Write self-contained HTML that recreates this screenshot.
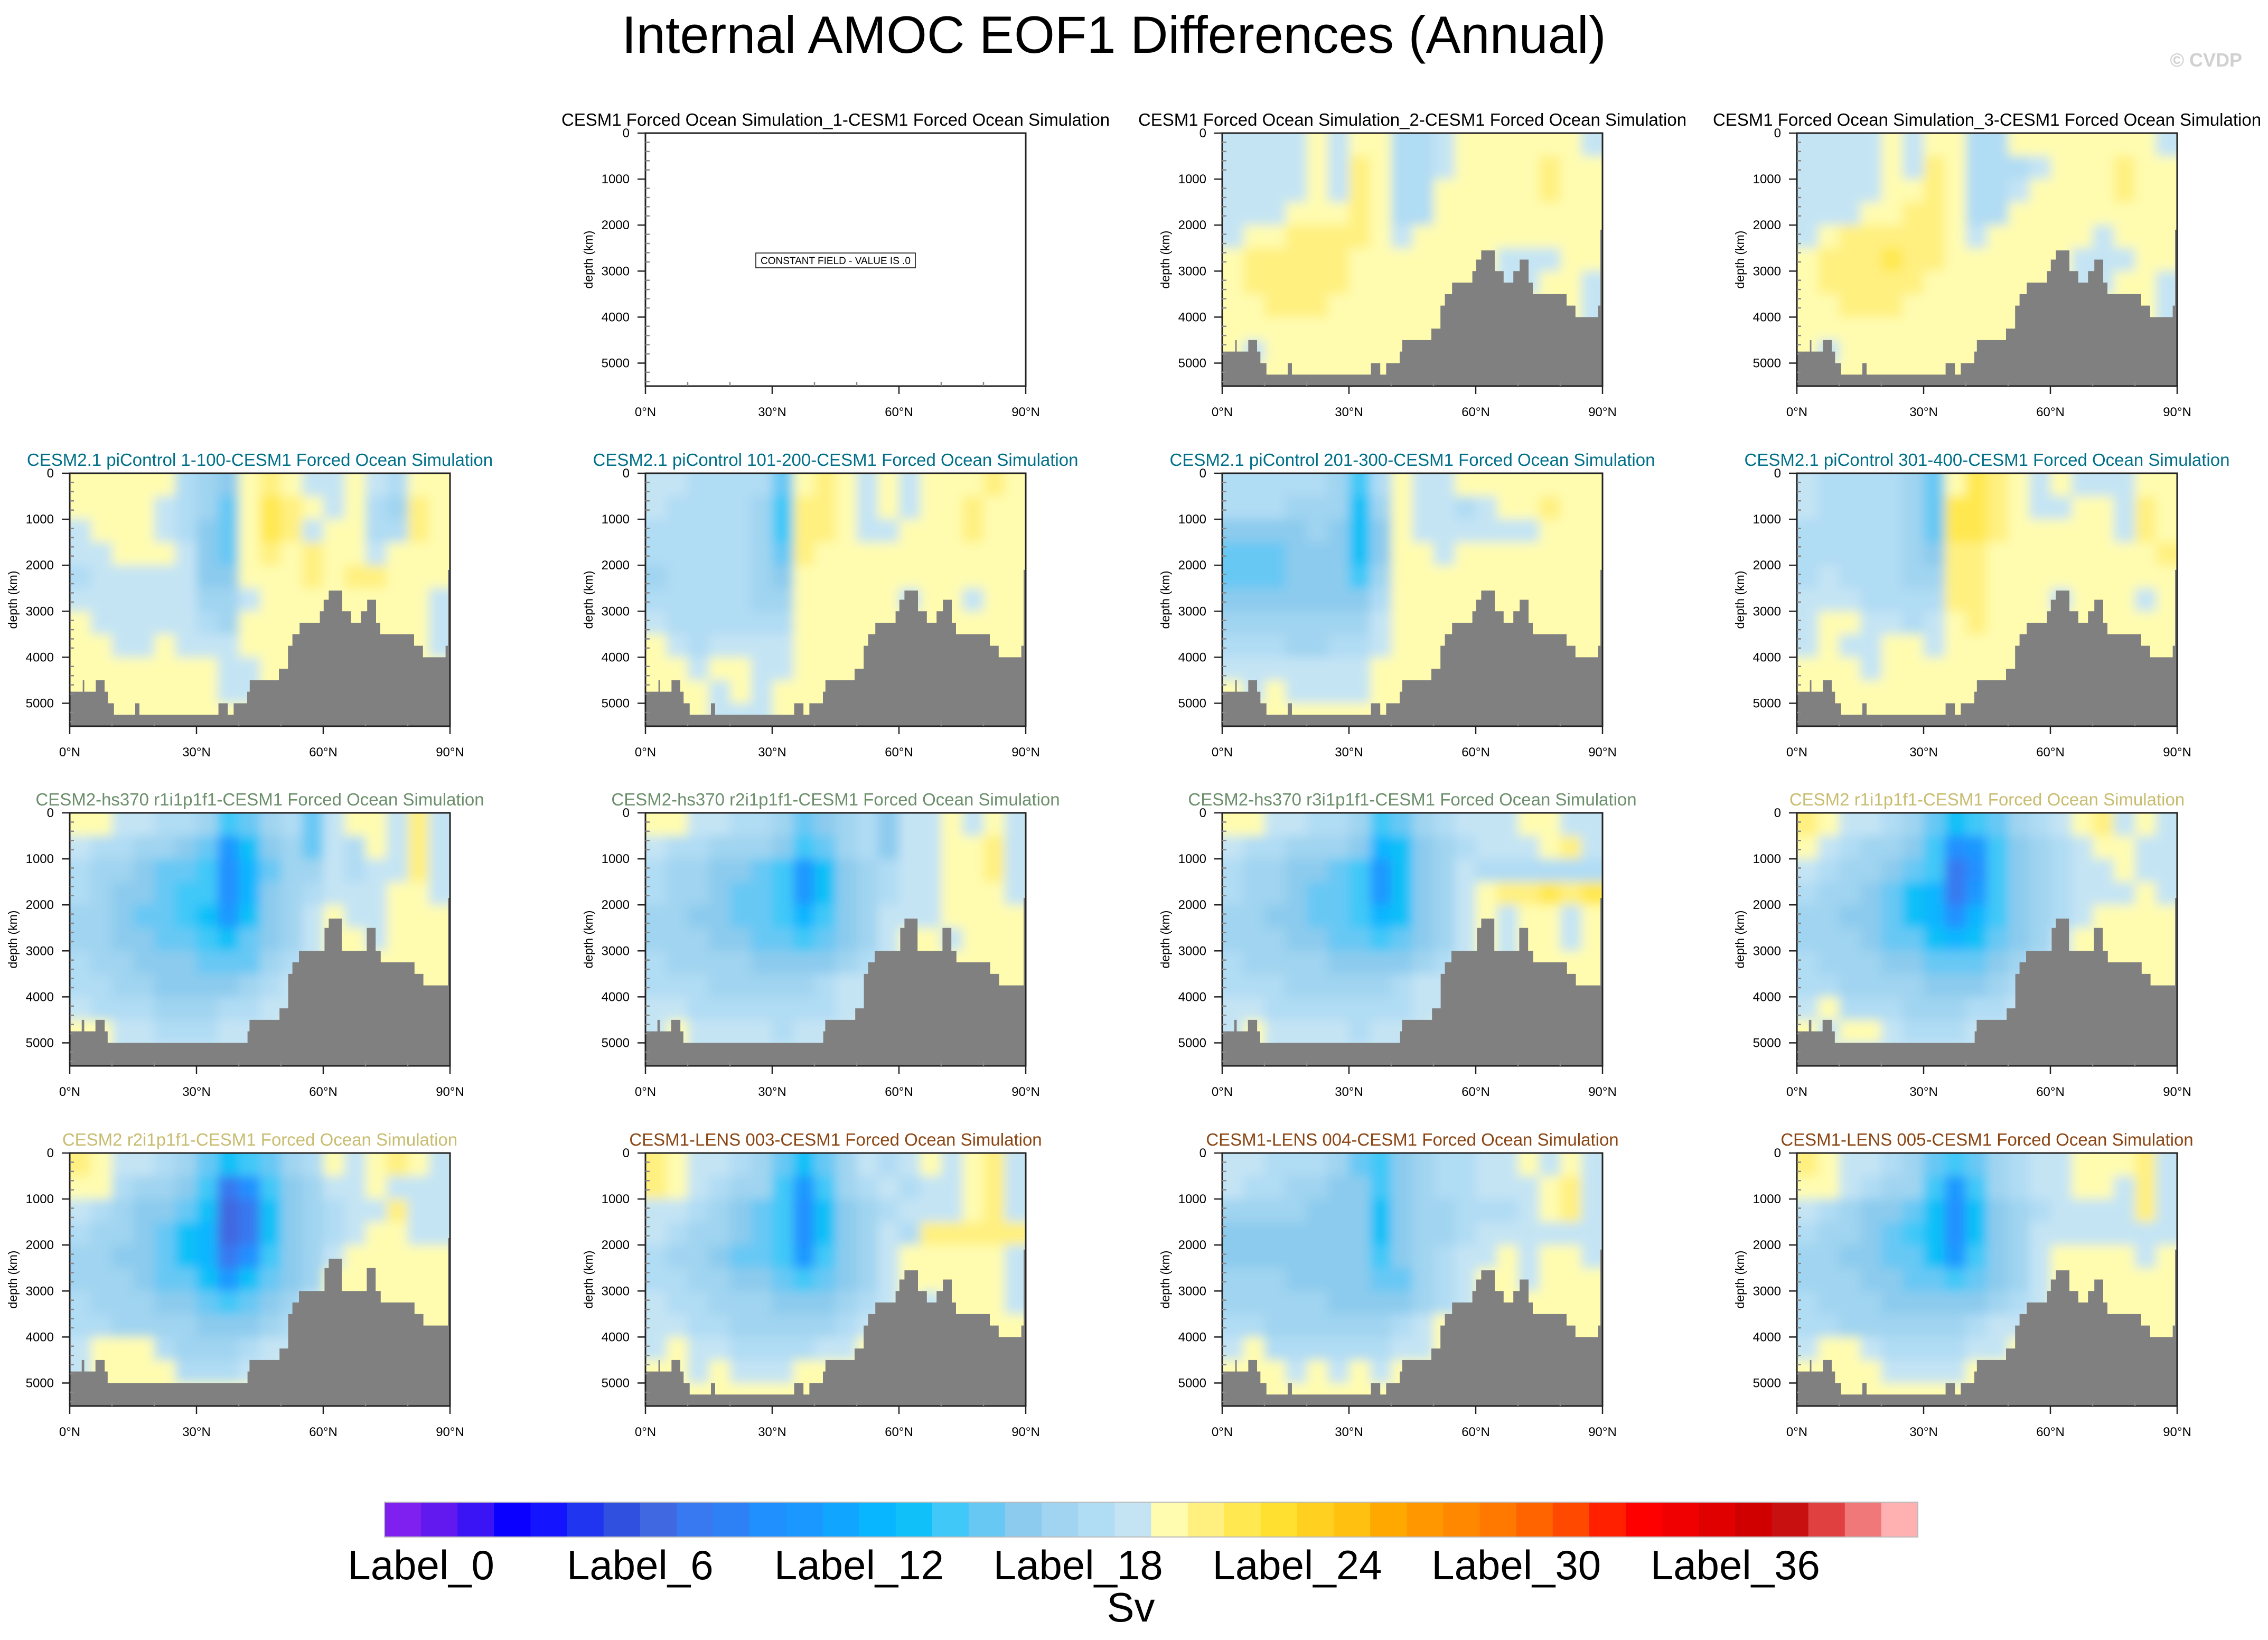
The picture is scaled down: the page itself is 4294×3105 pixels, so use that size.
<!DOCTYPE html>
<html><head><meta charset="utf-8">
<style>
html,body{margin:0;padding:0;background:#fff;}
svg{display:block;font-family:"Liberation Sans",sans-serif;}
</style></head>
<body>
<svg id="chart" xmlns="http://www.w3.org/2000/svg" width="4294" height="3105" viewBox="0 0 4294 3105">
<defs>
<filter id="soft" x="-5%" y="-5%" width="110%" height="110%"><feGaussianBlur stdDeviation="10"/></filter>
</defs>
<rect x="0" y="0" width="4294" height="3105" fill="#ffffff"/>
<text x="2109" y="100" font-size="99" text-anchor="middle" fill="#000">Internal AMOC EOF1 Differences (Annual)</text>
<text x="4245" y="126" font-size="36" font-weight="bold" text-anchor="end" fill="#d0d0d0">© CVDP</text>
<g id="panels"></g>
<g id="colorbar"></g>
</svg>
<script>
// ---- data ----
const levelChars = ['.','y','z','b','c','d','e','f','g','h','i','j','k','l','m'];
const levelColors = ['#fffcb0','#fff080','#ffe850','#c4e4f4','#b0dcf4','#a0d4f0','#8ccbee','#68c8f4','#40c8f8','#10c0f8','#08b5ff','#1a98ff','#2090ff','#3878f0','#4068e0'];
const bathyEdges1 = [0,3.08,3.44,6.17,8.25,9.04,10.47,15.5,16.5,35.2,37.4,38.8,42.0,42.6,49.5,51.65,52.7,54.4,59.2,60.1,61.3,64.5,66.6,68.9,70.4,72.5,73.5,81.5,83.6,88.95,89.5,90];
const bathyDepth1 = [4750,4500,4750,4500,4750,5000,5250,5000,5250,5000,5250,5000,4750,4500,4250,3750,3500,3250,3000,2750,2550,3000,3250,3000,2750,3250,3500,3750,4000,3750,2100];
const bathyEdges2 = [0,2.84,3.43,6.09,8.27,8.98,42.08,42.55,49.65,51.7,52.7,54.25,60.3,61.3,64.4,70.3,72.4,73.6,81.6,83.7,89.5,90];
const bathyDepth2 = [4750,4500,4750,4500,4750,5000,4750,4500,4250,3500,3250,3000,2500,2300,3000,2500,3000,3250,3500,3750,1850];
const xTickVals = [0,30,60,90];
const xTickLabels = ['0°N','30°N','60°N','90°N'];
const yTickVals = [0,1000,2000,3000,4000,5000];
const cbColors = ['#8020f0','#6119f0','#3a14f5','#0a00ff','#1414ff','#2035f0','#3050e0','#4068e0','#3878f0','#2e80f5','#2090ff','#1a98ff','#10a5ff','#08b5ff','#10c0f8','#40c8f8','#68c8f4','#8ccbee','#a0d4f0','#b0dcf4','#c4e4f4','#fffcb0','#fff080','#ffe850','#ffe030','#ffd020','#ffc010','#ffa800','#ff9800','#ff8800','#ff7800','#ff6400','#ff4800','#ff2000','#ff0000','#f00000','#e00000','#d00000','#c81010','#e04040','#f07878','#ffb0b0'];
const cbLabels = ['Label_0','Label_6','Label_12','Label_18','Label_24','Label_30','Label_36'];

const fieldSim2 = ["bbbb.b..ccb......b","bbbb.by.ccb....y..","bbbb.by.cc.....y..","bbb...y.cc........","b..yyyy.b.........",".yyyyy.......bbb..",".yyyyy.......bb..b","..yyy............b",".................b",".b................",".................."];
const fieldSim3 = ["bbbb.b..cc.......b","bbbb.by.cccb...y..","bbbb..y.ccb....y..","bbb..yy.cc........","b.yyyyy.b.....b...",".yyyzyy......bbb..",".yyyyy.......bb..b","..yyy............b",".................b",".b................",".................."];
const fieldPi1 = [".....cde.y.bb.bc..","....bcdf.zy.b.cdy.","b...bcef.zyb..ccy.","bb...bef.y.y..b...","cbbbbbee...y.yy...","bbbbbbddb........b",".bbbbbcd.........b","..bb.bbb.........b",".......bb.........",".......bb.........",".................."];
const fieldPi2 = ["bbccccf.y.b.b...y.","bccccdgyy.b.b..y..","cccccdgyy.bb...y..","cccccdfy..........","dccccde...........","cccccdd.....b..b..","bcccccc...........",".bcbbbb...........","..b..bb...........","...b.b............","...bbb............"];
const fieldPi3 = ["cccccdgc.bb.......","cccdddhd.bbcb..y..","eeeedehe.bbbbbb...","fffeeehe..b.......","fffeeegd..........","eeeeeeec..........","dddddddb..........","cccddccb..........","bbbbbbb...........",".b.bbbb...........",".................."];
const fieldPi4 = ["bccccdf.zy.b.bbb..","bccccdfzzy.bb..by.","cccccdfzzy.....by.","cccccdeyy........y","cbcccddyy.........","bbbccccyy...b...b.","b..bbcb.y.........","b.bb..b...........","...b..............","..................",".................."];
const fieldHs1 = ["..bbccdgfdcfb..byb","bccddefjhedfbc.byb","cddeffgkifddbcbbyb","cdeefggkiedcbbb..b","ddeffghjhedb.bb...","ddeeffghfedb..b...","cddeeefffdcb......","ccddeeeedcb.......","bcccdddccbb......b","..bbcccbbb......bb","..bbbbbbb........."];
const fieldHs2 = ["..bbccdfedcebb.b.b","bccdddegfdcebb..yb","cddeefgjhedcbb..yb","cddeffgjhedcbb...b","ddeeffgigedbbb....","dddeeffgfedb..b...","cddddeeeedcb......","cccdddddcbb.......","bbcccccccbb.......","b.bbbbcbbb........","..bbbbbbb........."];
const fieldHs3 = ["..bbccdgfdcbbb..bb","bccdddeihedcbbb.yb","cddeefgjhedbcccccc","cddeffgjhedb.yyzyz","ddeeffgihedb.b..b.","dddeeffgfedb.b..b.","cddddeeeedcb.b....","cccdddddcbb.......","bbcccccccbb.......","b.bbbbcbbb........","..bbbbbbb........."];
const fieldC2r1 = ["y.bbcdfhgfdcb.yb.b",".bcddegkjgedcb..bb","bcddefglkgedcbb.bb","cddefhiljgedcbbb.b","ddeefhikigedcb....","dddeffhihfedb.....","cdddeefffedcb.....","ccddddeeedcb......","b.cccdddccbb......",".b..bcccbbb.......","..bbbbbbbb........"];
const fieldC2r2 = ["y.bbcdfhgfdc.b.y.b","..cddeglkgedbb.bbb","bcdeefhmlhedcbbybb","cddefhimlhedcb..bb","ddeefhilkgedb.....","dddeffhjhfed......","cdddeefgfedb......","ccddddeeedcb......","b...cdddcbb.......","b....cccbb........",".................."];
const fieldL3 = ["y.bbcdfhfdbcb.b.yb","y.bcddgjgdcbcbb.yb","bbcdefgkhedcbbb.yb","bcddefgkhedbcyyyyy","cddeffgjgedb.....b","ccddeefgfedb.....b","bccdddeeedcb.b...b","bbccdddddcb.......","b.bbccccbb........","..b.bbb...........",".................."];
const fieldL4 = ["bbcccdfgedccbb.b.b","bccddeegedccbbb.yb","ddddeeeheddcccb.yb","eeeeeeeheddcbbbbbb","eeeeeeegedcbb.b..b","dddeeeeffdcb..b...","dddddeeeedcb......","ccddddddcb.b......","b.ccccccbb........","...b.b.b..........",".................."];
const fieldL5 = ["y.bbcdfgfdcbb...yb","..bcddgjgdcbb..byb","bcdeefhkhedcbbbbyb","cddefghkhedbbbbbbb","ddeeffhjgedb....b.","dddeeffgfedb......","cdddeeeeedcb......","ccddddddcbb.......","b..bccccbb........","....bbbb..........",".................."];

const panelTitles = [null,
 "CESM1 Forced Ocean Simulation_1-CESM1 Forced Ocean Simulation",
 "CESM1 Forced Ocean Simulation_2-CESM1 Forced Ocean Simulation",
 "CESM1 Forced Ocean Simulation_3-CESM1 Forced Ocean Simulation",
 "CESM2.1 piControl 1-100-CESM1 Forced Ocean Simulation",
 "CESM2.1 piControl 101-200-CESM1 Forced Ocean Simulation",
 "CESM2.1 piControl 201-300-CESM1 Forced Ocean Simulation",
 "CESM2.1 piControl 301-400-CESM1 Forced Ocean Simulation",
 "CESM2-hs370 r1i1p1f1-CESM1 Forced Ocean Simulation",
 "CESM2-hs370 r2i1p1f1-CESM1 Forced Ocean Simulation",
 "CESM2-hs370 r3i1p1f1-CESM1 Forced Ocean Simulation",
 "CESM2 r1i1p1f1-CESM1 Forced Ocean Simulation",
 "CESM2 r2i1p1f1-CESM1 Forced Ocean Simulation",
 "CESM1-LENS 003-CESM1 Forced Ocean Simulation",
 "CESM1-LENS 004-CESM1 Forced Ocean Simulation",
 "CESM1-LENS 005-CESM1 Forced Ocean Simulation"];
const panelFields = [null,'const',fieldSim2,fieldSim3,fieldPi1,fieldPi2,fieldPi3,fieldPi4,fieldHs1,fieldHs2,fieldHs3,fieldC2r1,fieldC2r2,fieldL3,fieldL4,fieldL5];
const panelBathy = [0,0,1,1,1,1,1,1,2,2,2,2,2,1,1,1];
const panelTitleColors = ['#000','#000','#000','#000','#00708a','#00708a','#00708a','#00708a','#6b8e6b','#6b8e6b','#6b8e6b','#c8bc70','#c8bc70','#8b4513','#8b4513','#8b4513'];

// ---- layout ----
const NS = 'http://www.w3.org/2000/svg';
const colLeft = [132,1222,2314,3402];
const rowTop = [252,896,1539,2183];
const W = 720, H = 479, DMAX = 5500, LATMAX = 90;
const panelsG = document.getElementById('panels');
const defs = document.querySelector('defs');

function mk(tag, attrs, parent){
  const e = document.createElementNS(NS, tag);
  for (const k in attrs) e.setAttribute(k, attrs[k]);
  parent.appendChild(e);
  return e;
}

for (let p = 1; p < 16; p++) {
  const col = p % 4, row = Math.floor(p / 4);
  const L = colLeft[col], T = rowTop[row];
  const xS = lat => L + lat / LATMAX * W;
  const yS = d => T + d / DMAX * H;
  const g = mk('g', {}, panelsG);
  
  

  const title = mk('text', {x: L + W/2, y: T - 14, 'font-size': 33, 'text-anchor': 'middle', fill: panelTitleColors[p]}, g);
  title.textContent = panelTitles[p];
  
  

  const field = panelFields[p];
  if (field === 'const') {
    const bx = mk('rect', {x: L + 209, y: T + 227, width: 302, height: 28, fill: '#fff', stroke: '#000', 'stroke-width': 1.5}, g);
    
    
    const t = mk('text', {x: L + 360, y: T + 248, 'font-size': 19, 'text-anchor': 'middle', fill: '#000'}, g);
    t.textContent = 'CONSTANT FIELD - VALUE IS .0';
    
    
  } else {
    const clip = mk('clipPath', {id: 'clip' + p}, defs);
    mk('rect', {x: L, y: T, width: W, height: H}, clip);
    const clipG = mk('g', {'clip-path': 'url(#clip' + p + ')'}, g);
    const fg = mk('g', {filter: 'url(#soft)'}, clipG);
    
    
    const nR = field.length;
    const nC = 18;
    const dLat = LATMAX / nC, dDep = DMAX / nR;
    const pad = 40;
    for (let r = 0; r < nR; r++) {
      const rowStr = field[r].padEnd(nC, '.');
      for (let c = 0; c < nC; c++) {
        const idx = levelChars.indexOf(rowStr[c]);
        let x0 = xS(c * dLat), x1 = xS((c + 1) * dLat);
        let y0 = yS(r * dDep), y1 = yS((r + 1) * dDep);
        if (c === 0) x0 -= pad;
        if (c === nC - 1) x1 += pad;
        if (r === 0) y0 -= pad;
        if (r === nR - 1) y1 += pad;
        const cell = mk('rect', {x: x0, y: y0, width: x1 - x0 + 0.6, height: y1 - y0 + 0.6, fill: levelColors[idx < 0 ? 0 : idx]}, fg);
        
        
      }
    }
    const edges = panelBathy[p] === 1 ? bathyEdges1 : bathyEdges2;
    const depths = panelBathy[p] === 1 ? bathyDepth1 : bathyDepth2;
    let d = 'M' + xS(0) + ',' + yS(DMAX);
    for (let i = 0; i < depths.length; i++) {
      d += ' L' + xS(edges[i]) + ',' + yS(depths[i]) + ' L' + xS(edges[i+1]) + ',' + yS(depths[i]);
    }
    d += ' L' + xS(LATMAX) + ',' + yS(DMAX) + ' Z';
    const land = mk('path', {d: d, fill: '#808080'}, g);
    
    
  }

  // frame
  const fr = mk('rect', {x: L, y: T, width: W, height: H, fill: 'none', stroke: '#222', 'stroke-width': 3}, g);
  
  

  // y ticks
  for (let d = 0; d <= 5400; d += 200) {
    const major = d % 1000 === 0;
    const tk = mk('line', {x1: major ? L - 15 : L, x2: major ? L : L + 8, y1: yS(d), y2: yS(d), stroke: major ? '#222' : '#888', 'stroke-width': 2.5}, g);
    
    
  }
  yTickVals.forEach(v => {
    const t = mk('text', {x: L - 30, y: yS(v) + 8, 'font-size': 24, 'text-anchor': 'end', fill: '#000'}, g);
    t.textContent = String(v);
    
    
  });
  const yt = mk('text', {x: 0, y: 0, 'font-size': 23, 'text-anchor': 'middle', fill: '#000', transform: 'translate(' + (L - 100) + ',' + (T + H/2) + ') rotate(-90)'}, g);
  yt.textContent = 'depth (km)';
  
  

  // x ticks
  for (let lat = 0; lat <= 90; lat += 10) {
    const major = lat % 30 === 0;
    const tk = mk('line', {x1: xS(lat), x2: xS(lat), y1: major ? T + H + 15 : T + H, y2: major ? T + H : T + H - 8, stroke: major ? '#222' : '#888', 'stroke-width': 2.5}, g);
    
    
  }
  xTickVals.forEach((v, i) => {
    const t = mk('text', {x: xS(v), y: T + H + 57, 'font-size': 24, 'text-anchor': 'middle', fill: '#000'}, g);
    t.textContent = xTickLabels[i];
    
    
  });
}

// ---- colorbar ----
const cb = document.getElementById('colorbar');
const cbL = 728, cbR = 3631, cbT = 2844, cbB = 2910;
const bw = (cbR - cbL) / cbColors.length;
cbColors.forEach((c, i) => {
  const r = mk('rect', {x: cbL + i * bw, y: cbT, width: bw + 0.5, height: cbB - cbT, fill: c}, cb);
  
  
});
const cbf = mk('rect', {x: cbL, y: cbT, width: cbR - cbL, height: cbB - cbT, fill: 'none', stroke: '#bbb', 'stroke-width': 2}, cb);


cbLabels.forEach((lab, i) => {
  const t = mk('text', {x: cbL + (1 + 6 * i) * bw, y: 2990, 'font-size': 78, 'text-anchor': 'middle', fill: '#000'}, cb);
  t.textContent = lab;
  
  
});
const sv = mk('text', {x: 2141, y: 3070, 'font-size': 78, 'text-anchor': 'middle', fill: '#000'}, cb);
sv.textContent = 'Sv';


</script>
</body></html>
